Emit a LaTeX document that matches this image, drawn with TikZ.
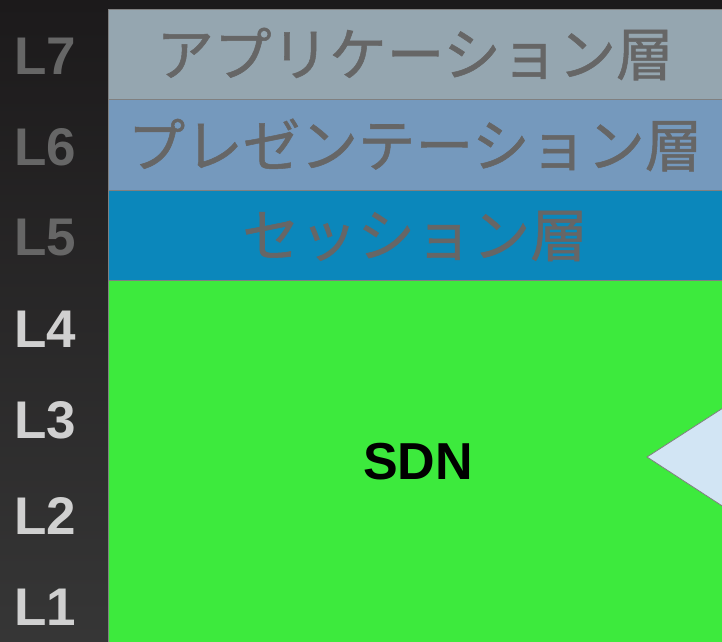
\documentclass[tikz,border=0pt]{standalone}
\usepackage{fontspec}
\setmainfont{Liberation Sans}
\newfontfamily\jpfont[FakeBold=0.9]{Noto Sans CJK JP}
\usetikzlibrary{calc}

\definecolor{bgtop}{HTML}{1C1A1B}
\definecolor{bgbot}{HTML}{363636}
\definecolor{appband}{HTML}{95A6B0}
\definecolor{preband}{HTML}{7599BD}
\definecolor{sesband}{HTML}{0B87BB}
\definecolor{sdnband}{HTML}{3DEA3D}
\definecolor{wedge}{HTML}{D2E5F4}
\definecolor{dimtext}{HTML}{666666}
\definecolor{littext}{HTML}{D0D0D0}

\tikzset{
  band/.style={draw=black!50, line width=0.8pt},
  lay/.style={font=\fontsize{53}{56}\selectfont\bfseries, inner sep=0pt},
  upper/.style={lay, text=dimtext},
  lower/.style={lay, text=littext},
  bandtext/.style={font=\jpfont\fontsize{57.6}{62}\selectfont, text=dimtext, inner sep=0pt}
}

\begin{document}
\begin{tikzpicture}[x=1pt, y=-1pt]
			%%%%% START %%%%%
			\useasboundingbox (0, 0) rectangle (722, 641);
			\clip (0, 0) rectangle (722, 641);
			
			\shade[top color=bgtop, bottom color=bgbot] (0, 0) rectangle (722, 641);
			
			\draw[band, fill=appband] (108, 9) rectangle (730, 99);
			\draw[band, fill=preband] (108, 99) rectangle (730, 190);
			\draw[band, fill=sesband] (108, 190) rectangle (730, 280);
			\draw[band, fill=sdnband] (108, 280) rectangle (730, 650);
			
			\draw[draw=black!50, line width=0.8pt, fill=wedge] (647, 457) -- (730, 403.5) -- (730, 511) -- cycle;
			
			\node[bandtext] (app) at (415, 54) {アプリケーション層};
			\node[bandtext] (pre) at (415, 145) {プレゼンテーション層};
			\node[bandtext] (ses) at (415, 236) {セッション層};
			\node[font=\fontsize{52}{56}\selectfont\bfseries, inner sep=0pt] (sdn) at (418, 462) {SDN};
			
			\node[upper] (l7) at (45, 56) {L7};
			\node[upper] (l6) at (45, 147) {L6};
			\node[upper] (l5) at (45, 238) {L5};
			\node[lower] (l4) at (45, 329) {L4};
			\node[lower] (l3) at (45, 420) {L3};
			\node[lower] (l2) at (45, 516) {L2};
			\node[lower] (l1) at (45, 607) {L1};
			%%%%% END %%%%%
\end{tikzpicture}
\end{document}
